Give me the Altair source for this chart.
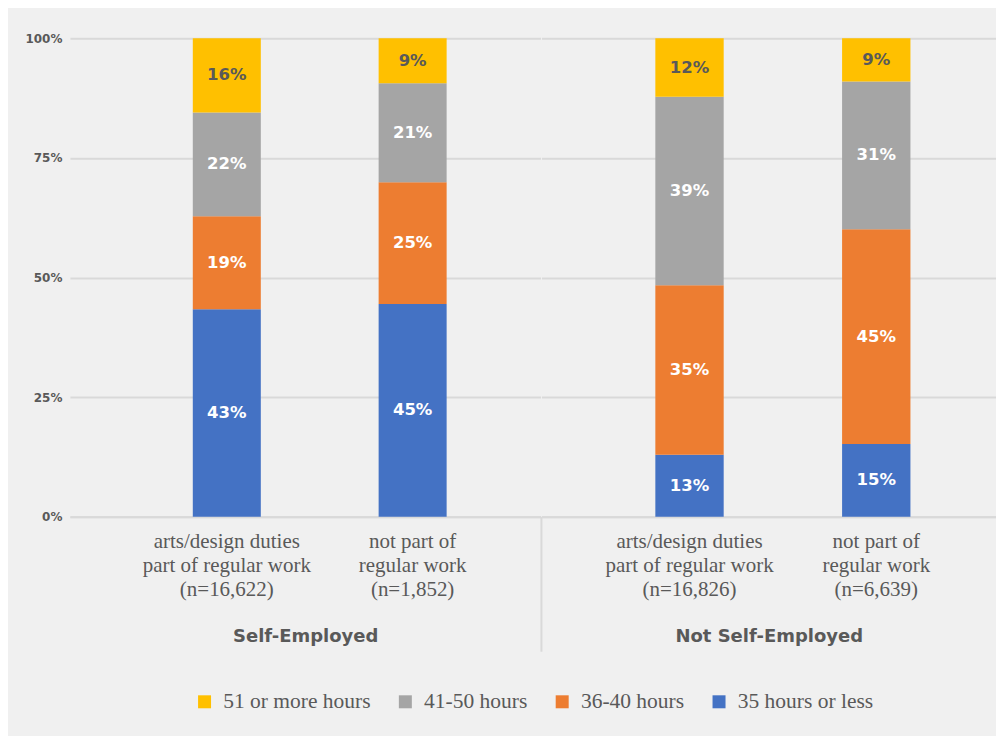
import altair as alt
import pandas as pd

groups = ["Self-Employed", "Self-Employed", "Not Self-Employed", "Not Self-Employed"]
categories = [
    "arts/design duties|part of regular work|(n=16,622)",
    "not part of|regular work|(n=1,852)",
    "arts/design duties|part of regular work|(n=16,826)",
    "not part of|regular work|(n=6,639)",
]
series = ["35 hours or less", "36-40 hours", "41-50 hours", "51 or more hours"]
legend_order = ["51 or more hours", "41-50 hours", "36-40 hours", "35 hours or less"]
colors = ["#FFC000", "#A5A5A5", "#ED7D31", "#4472C4"]

hours_35_or_less = [43.4, 44.5, 13.0, 15.2]
hours_36_40 = [19.4, 25.4, 35.4, 44.9]
hours_41_50 = [21.7, 20.7, 39.4, 30.9]
hours_51_more = [15.5, 9.4, 12.2, 9.0]
series_values = [hours_35_or_less, hours_36_40, hours_41_50, hours_51_more]

rows = []
for si, (s, vals) in enumerate(zip(series, series_values)):
    for ci, (g, c) in enumerate(zip(groups, categories)):
        rows.append({"group": g, "cat": c, "series": s, "order": si, "value": vals[ci]})
df = pd.DataFrame(rows)

GRID = "#d9d9d9"
TXT = "#595959"
SANS = "DejaVu Sans"
SERIF = "Liberation Serif"
H = 479


def panel(group, width, pad_outer, align, first):
    cats = [c for g, c in zip(groups, categories) if g == group]
    base = alt.Chart(df).transform_filter(alt.datum.group == group)
    x = alt.X(
        "cat:N",
        sort=cats,
        scale=alt.Scale(paddingInner=0.634, paddingOuter=pad_outer, align=align),
        axis=alt.Axis(
            title=group,
            labelExpr="split(datum.label, '|')",
            labelAngle=0,
            labelFont=SERIF,
            labelFontSize=21,
            labelColor=TXT,
            labelLineHeight=24,
            labelPadding=14,
            labelLimit=400,
            ticks=False,
            domainColor=GRID,
            domainWidth=2,
            titleFont=SANS,
            titleFontSize=18,
            titleFontWeight="bold",
            titleColor=TXT,
            titlePadding=28,
        ),
    )
    if first:
        yaxis = alt.Axis(
            values=[0, 25, 50, 75, 100],
            labelExpr="datum.value + '%'",
            labelFont=SANS,
            labelFontSize=12,
            labelFontWeight="bold",
            labelColor=TXT,
            labelPadding=8,
            ticks=False,
            domain=False,
            gridColor=GRID,
            gridWidth=2,
            title=None,
        )
    else:
        yaxis = alt.Axis(
            values=[0, 25, 50, 75, 100],
            labels=False,
            ticks=False,
            domain=False,
            gridColor=GRID,
            gridWidth=2,
            title=None,
        )
    y = alt.Y("value:Q", stack="zero", scale=alt.Scale(domain=[0, 100]), axis=yaxis)
    bars = base.mark_bar().encode(
        x=x,
        y=y,
        color=alt.Color(
            "series:N",
            scale=alt.Scale(domain=legend_order, range=colors),
            legend=alt.Legend(
                title=None,
                orient="none",
                legendX=124,
                legendY=653,
                direction="horizontal",
                symbolType="square",
                symbolSize=169,
                symbolStrokeWidth=0,
                labelFont=SERIF,
                labelFontSize=21.5,
                labelColor=TXT,
                columnPadding=24,
                labelOffset=8,
            ),
        ),
        order=alt.Order("order:Q"),
    )
    labels = (
        base.transform_stack(
            stack="value", groupby=["cat"], as_=["y0", "y1"], sort=[alt.SortField("order")]
        )
        .transform_calculate(
            mid="(datum.y0 + datum.y1) / 2",
            txt="format(datum.value, '.0f') + '%'",
        )
        .mark_text(font=SANS, fontSize=16.5, fontWeight="bold")
        .encode(
            x=alt.X("cat:N", sort=cats),
            y=alt.Y("mid:Q"),
            text="txt:N",
            color=alt.condition(
                alt.datum.series == "51 or more hours", alt.value(TXT), alt.value("white")
            ),
        )
    )
    layers = [bars, labels]
    if not first:
        sep = (
            alt.Chart(pd.DataFrame({"a": [0]}))
            .mark_rule(color=GRID, strokeWidth=2)
            .encode(x=alt.value(0), y=alt.value(H), y2=alt.value(H + 135))
        )
        layers.append(sep)
    return alt.layer(*layers).properties(width=width, height=H)


p1 = panel("Self-Employed", 471, 0.583, 0.567, True)
p2 = panel("Not Self-Employed", 455, 0.534, 0.571, False)

chart = (
    alt.hconcat(p1, p2, spacing=0)
    .resolve_scale(x="independent", color="shared")
    .configure(background="#f0f0f0", padding={"left": 16, "top": 24, "right": 0, "bottom": 30})
    .configure_view(stroke=None)
)

chart.save("out.html", embed_options={"renderer": "svg", "actions": False})
